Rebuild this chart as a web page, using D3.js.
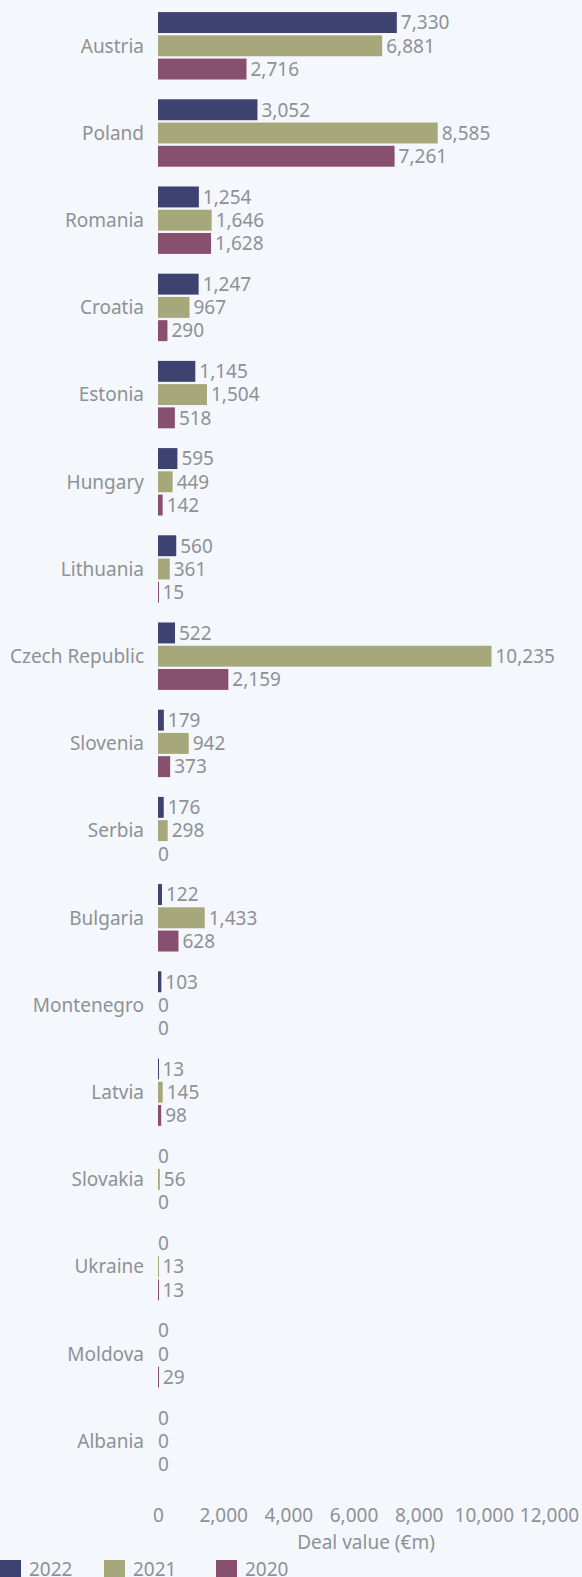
<!DOCTYPE html>
<html>
<head>
<meta charset="utf-8">
<script src="https://cdn.jsdelivr.net/npm/d3@7"></script>
<style>
  body { margin: 0; background: #f4f7fc; }
  svg { display: block; font-family: "Noto Sans", sans-serif; }
</style>
</head>
<body>
<div id="container"></div>
<script>
/* CONSTANTS AND GLOBALS */
const width = 582;
const height = 1577;
const fontSize = "19px";

// DATA
const countries = ["Austria", "Poland", "Romania", "Croatia", "Estonia", "Hungary", "Lithuania",
  "Czech Republic", "Slovenia", "Serbia", "Bulgaria", "Montenegro", "Latvia", "Slovakia",
  "Ukraine", "Moldova", "Albania"];
const years = ["2022", "2021", "2020"];
const values2022 = [7330, 3052, 1254, 1247, 1145, 595, 560, 522, 179, 176, 122, 103, 13, 0, 0, 0, 0];
const values2021 = [6881, 8585, 1646, 967, 1504, 449, 361, 10235, 942, 298, 1433, 0, 145, 56, 13, 0, 0];
const values2020 = [2716, 7261, 1628, 290, 518, 142, 15, 2159, 373, 0, 628, 0, 98, 0, 13, 29, 0];
const xTicks = [0, 2000, 4000, 6000, 8000, 10000, 12000];

const series = { "2022": values2022, "2021": values2021, "2020": values2020 };
const colors = { "2022": "#3e4271", "2021": "#a6a87c", "2020": "#87506f" };
const textColor = "#8f9196";

const rows = [];
countries.forEach((c, i) => {
  years.forEach(y => rows.push({ country: c, year: y, value: series[y][i] }));
});

// CREATE SVG
const svg = d3.select("#container")
  .append("svg")
  .attr("width", width)
  .attr("height", height)
  .style("background-color", "#f4f7fc");

/* SCALES */
const xScale = d3.scaleLinear()
  .domain([0, 12000])
  .range([158, 549]);

const yScale = d3.scaleBand()
  .domain(countries)
  .range([2.2, 2.2 + 17 * 87.2])
  .paddingInner(0.227)
  .paddingOuter(0.1135);

const yInner = d3.scaleBand()
  .domain(years)
  .range([0, yScale.bandwidth()])
  .paddingInner(0.1);

// BARS
svg.selectAll("rect.bars")
  .data(rows)
  .join("rect")
  .attr("class", "bars")
  .attr("x", xScale(0))
  .attr("y", d => yScale(d.country) + yInner(d.year))
  .attr("width", d => d.value > 0 ? Math.max(1, xScale(d.value) - xScale(0)) : 0)
  .attr("height", yInner.bandwidth())
  .attr("fill", d => colors[d.year]);

// VALUE LABELS
svg.selectAll("text.values")
  .data(rows)
  .join("text")
  .attr("class", "values")
  .attr("x", d => xScale(d.value) + (d.value > 0 ? 4 : 0))
  .attr("y", d => yScale(d.country) + yInner(d.year) + yInner.bandwidth() / 2)
  .attr("dy", "0.36em")
  .style("font-size", fontSize)
  .attr("fill", textColor)
  .text(d => d3.format(",")(d.value));

// COUNTRY LABELS
svg.selectAll("text.countries")
  .data(countries)
  .join("text")
  .attr("class", "countries")
  .attr("x", 144)
  .attr("y", d => yScale(d) + yScale.bandwidth() / 2)
  .attr("dy", "0.36em")
  .attr("text-anchor", "end")
  .style("font-size", fontSize)
  .attr("fill", textColor)
  .text(d => d);

// X AXIS
const xAxis = d3.axisBottom(xScale)
  .tickValues(xTicks)
  .tickFormat(d3.format(","))
  .tickSize(0)
  .tickPadding(0);

const axisG = svg.append("g")
  .attr("transform", "translate(0,1508)")
  .call(xAxis);
axisG.select(".domain").remove();
axisG.selectAll("text")
  .style("font-size", fontSize)
  .style("font-family", "'Noto Sans', sans-serif")
  .attr("fill", textColor);

svg.append("text")
  .attr("x", 366)
  .attr("y", 1549)
  .attr("text-anchor", "middle")
  .style("font-size", fontSize)
  .attr("fill", textColor)
  .text("Deal value (€m)");

// LEGEND
const legendX = [0, 104, 216];
const legend = svg.selectAll("g.legend")
  .data(years)
  .join("g")
  .attr("class", "legend")
  .attr("transform", (d, i) => `translate(${legendX[i]},1560)`);

legend.append("rect")
  .attr("width", 21)
  .attr("height", 21)
  .attr("fill", d => colors[d]);

legend.append("text")
  .attr("x", 29)
  .attr("y", 16)
  .style("font-size", fontSize)
  .attr("fill", textColor)
  .text(d => d);
</script>
</body>
</html>
